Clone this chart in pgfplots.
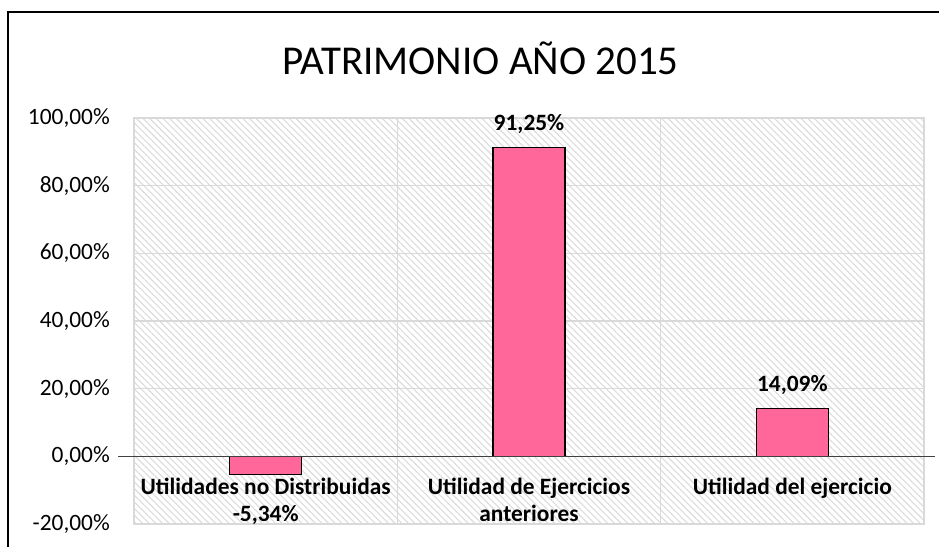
\documentclass[border=0pt]{standalone}
\usepackage{pgfplots}
\pgfplotsset{compat=1.18}
\usetikzlibrary{patterns.meta}
\usepackage{fontspec}
\setmainfont{Carlito}
\definecolor{gridgray}{RGB}{217,217,217}
\definecolor{hatchgray}{RGB}{220,220,220}
\definecolor{barpink}{RGB}{255,102,153}
\definecolor{zerogray}{RGB}{64,64,64}
\begin{document}
\begin{tikzpicture}
\useasboundingbox (0,0) rectangle (939pt,547pt);
\draw[black, line width=1.6pt] (8pt,0) -- (8pt,535pt) -- (939pt,535pt);
\node[anchor=base, font=\fontsize{41pt}{50pt}\selectfont] at (480.5pt,472pt) {PATRIMONIO AÑO 2015};
\begin{axis}[
  at={(134pt,23pt)}, anchor=south west,
  scale only axis, width=790pt, height=406pt,
  xmin=-0.5, xmax=2.5, ymin=-20, ymax=100,
  clip=false,
  axis background/.style={preaction={fill=white}, pattern={Lines[angle=-45,distance=4.7pt,line width=1.1pt]}, pattern color=hatchgray},
  axis line style={draw=gridgray, line width=1.5pt},
  xtick={0,1,2}, xticklabels={},
  minor xtick={0.5,1.5},
  xminorgrids, ymajorgrids,
  grid style={draw=gridgray, line width=1.5pt},
  minor grid style={draw=gridgray, line width=1.5pt},
  major tick length=0pt, minor tick length=0pt,
  ytick={-20,0,20,40,60,80,100},
  yticklabels={{-20,00\%},{0,00\%},{20,00\%},{40,00\%},{60,00\%},{80,00\%},{100,00\%}},
  yticklabel style={inner sep=0pt, anchor=east, xshift=-24pt, font=\fontsize{23.4pt}{28pt}\selectfont},
  ybar, bar width=72pt,
]
\addplot[fill=barpink, draw=black, line width=1.4pt] coordinates {(0,-5.34) (1,91.25) (2,14.09)};
\draw[color=zerogray, line width=1.5pt] ([xshift=-16pt]axis cs:-0.5,0) -- ([xshift=11pt]axis cs:2.5,0);
\begin{scope}[every node/.style={anchor=base, inner sep=0pt, font=\fontsize{23.4pt}{28pt}\selectfont\bfseries}]
\node at ([yshift=17pt]axis cs:1,91.25) {91,25\%};
\node at ([yshift=17pt]axis cs:2,14.09) {14,09\%};
\node at (axis cs:0,-11.4) {Utilidades no Distribuidas};
\node at (axis cs:0,-19.4) {-5,34\%};
\node at (axis cs:1,-11.4) {Utilidad de Ejercicios};
\node at (axis cs:1,-19.4) {anteriores};
\node at (axis cs:2,-11.4) {Utilidad del ejercicio};
\end{scope}
\end{axis}
\end{tikzpicture}
\end{document}
